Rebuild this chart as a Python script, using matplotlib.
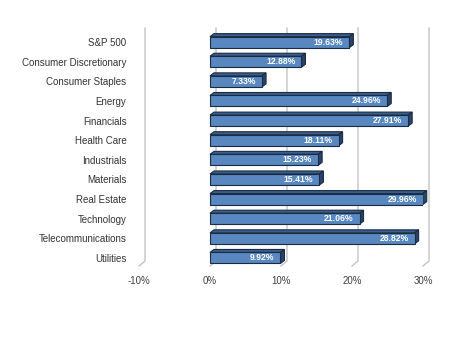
import matplotlib
matplotlib.use("Agg")
import matplotlib.pyplot as plt
from matplotlib.patches import Polygon

categories = ["S&P 500", "Consumer Discretionary", "Consumer Staples", "Energy",
              "Financials", "Health Care", "Industrials", "Materials",
              "Real Estate", "Technology", "Telecommunications", "Utilities"]
values = [19.63, 12.88, 7.33, 24.96, 27.91, 18.11, 15.23, 15.41,
          29.96, 21.06, 28.82, 9.92]
ticks = [-10, 0, 10, 20, 30]
tick_labels = ["-10%", "0%", "10%", "20%", "30%"]

plt.rcParams["font.family"] = ["Liberation Sans", "DejaVu Sans"]

W, H = 450, 341
fig = plt.figure(figsize=(W / 100, H / 100), dpi=100)
# axes spans the front plane of the pseudo-3D plot area (pixel layout)
left_px, right_px, top_px, bot_px = 139, 423, 28, 266
ax = fig.add_axes([left_px / W, 1 - bot_px / H, (right_px - left_px) / W, (bot_px - top_px) / H])
xmin, xmax = -10, 30
ax.set_xlim(xmin, xmax)
y_top, y_bot = -0.72, 11.41
ax.set_ylim(y_bot, y_top)

px_x = (right_px - left_px) / (xmax - xmin)   # pixels per percent
px_y = (bot_px - top_px) / (y_bot - y_top)    # pixels per category

# depth of the back wall and of the bars (pixels -> data units)
wall_dx, wall_dy = 6 / px_x, 5 / px_y
bar_dx, bar_dy = 4 / px_x, 3 / px_y
bar_h = 11 / px_y

grid_color = "#BFBFBF"
for t in ticks:
    ax.plot([t + wall_dx, t + wall_dx, t], [y_top, y_bot - wall_dy, y_bot],
            color=grid_color, lw=0.9, zorder=1, clip_on=False,
            solid_joinstyle="miter")

front = "#5888BF"
top_c = "#3A5E8C"
side_c = "#284468"
edge = "#1B2B42"

ys = list(range(len(categories)))
ax.barh(ys, values, height=bar_h, left=0, color=front, edgecolor=edge,
        linewidth=0.8, zorder=3)
for y, v in zip(ys, values):
    yt = y - bar_h / 2
    yb = y + bar_h / 2
    top = Polygon([(0, yt), (v, yt), (v + bar_dx, yt - bar_dy), (bar_dx, yt - bar_dy)],
                  closed=True, facecolor=top_c, edgecolor=edge, lw=0.8, zorder=2.5,
                  clip_on=False)
    side = Polygon([(v, yt), (v, yb), (v + bar_dx, yb - bar_dy), (v + bar_dx, yt - bar_dy)],
                   closed=True, facecolor=side_c, edgecolor=edge, lw=0.8, zorder=2.5,
                   clip_on=False)
    ax.add_patch(top)
    ax.add_patch(side)
    ax.text(v - 6 / px_x, y, f"{v:.2f}%", ha="right", va="center", color="white",
            fontsize=6.2, fontweight="bold", zorder=4)

ax.set_yticks(ys)
ax.set_yticklabels(categories, fontsize=7, color="#333333")
ax.set_xticks(ticks)
ax.set_xticklabels(tick_labels, fontsize=7, color="#404040")
ax.tick_params(axis="y", length=0, pad=9)
ax.tick_params(axis="x", length=0, pad=7)
for s in ax.spines.values():
    s.set_visible(False)
ax.patch.set_visible(False)

fig.savefig("out.png", dpi=100)
